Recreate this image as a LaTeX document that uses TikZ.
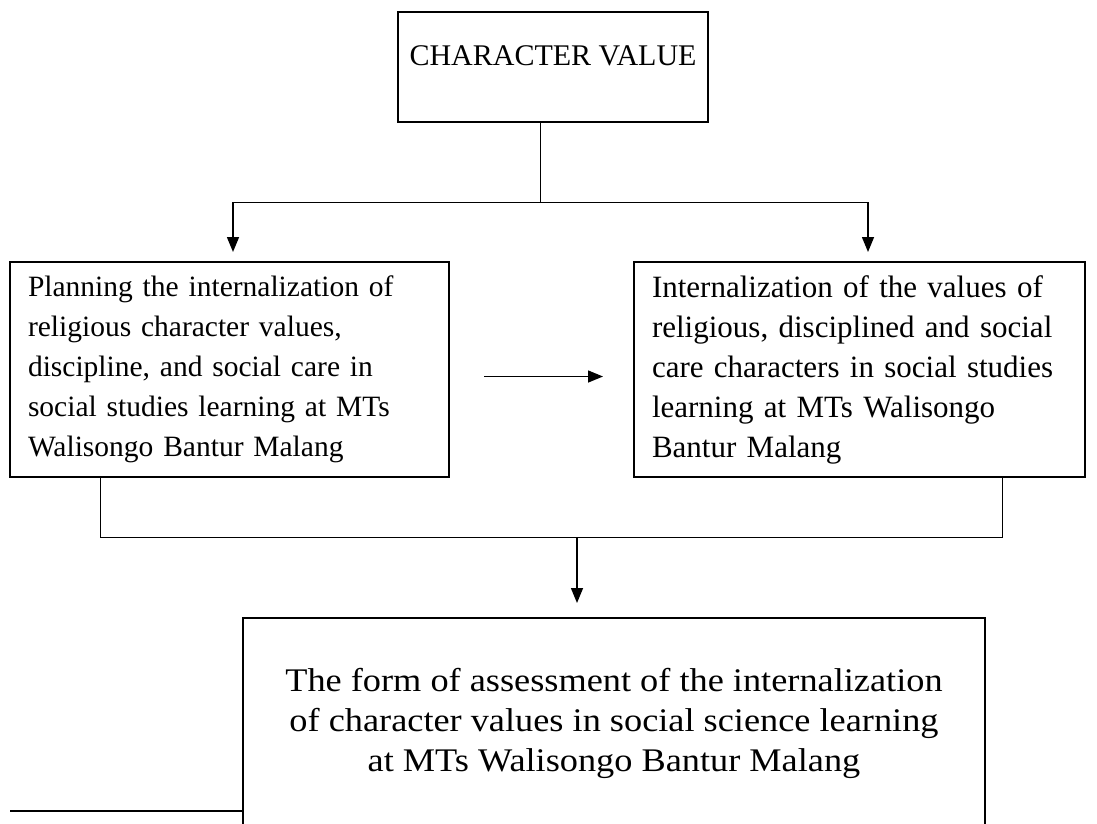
\documentclass[tikz,border=0pt]{standalone}
\usepackage{fontspec}
\setmainfont{Liberation Serif}
\newfontfamily\widefont[FakeStretch=1.1]{Liberation Serif}
\usetikzlibrary{arrows.meta, positioning, calc}

\begin{document}
\begin{tikzpicture}[x=1pt, y=-1pt]
    % --- Style Definitions ---
    \tikzset{
        % Outlined boxes
        box style/.style={
            draw=black,
            line width=1.5pt,
            inner sep=0pt,
            outer sep=0pt,
            font=\fontsize{30pt}{40pt}\selectfont
        },
        % Side boxes with left-aligned text
        side box/.style={
            box style,
            align=left,
            inner xsep=18pt,
            text width=#1,
            minimum height=215pt,
            anchor=north west
        },
        % Plain connector lines
        link line/.style={
            draw=black,
            line width=1pt
        },
        % Arrow styling
        flow arrow/.style={
            -{Triangle[width=12pt, length=15pt]},
            line width=1.5pt,
            black
        }
    }

    % --- Page frame ---
    \useasboundingbox (0,0) rectangle (1097,823);
    \clip (0,0) rectangle (1097,823);

    % ==========================================
    % BOXES
    % ==========================================
    % 1. Top box
    \node[box style, anchor=north west, minimum width=310pt,
        text height=53pt, text depth=57pt] (cv) at (398,12) {CHARACTER VALUE};

    % 2. Side boxes
    \node[side box=403pt, font=\fontsize{29.5pt}{40pt}\selectfont] (plan) at (10,262) {Planning the internalization of\\
        religious character values,\\
        discipline, and social care in\\
        social studies learning at MTs\\
        Walisongo Bantur Malang};
    \node[side box=415pt, font=\fontsize{31pt}{40pt}\selectfont] (intern) at (634,262) {Internalization of the values of\\
        religious, disciplined and social\\
        care characters in social studies\\
        learning at MTs Walisongo\\
        Bantur Malang};

    % 3. Bottom box
    \node[box style, anchor=north, align=center, minimum width=742pt,
        minimum height=210pt, font=\widefont\fontsize{33pt}{40pt}\selectfont] (assess) at (614,618) {The form of assessment of the internalization\\
        of character values in social science learning\\
        at MTs Walisongo Bantur Malang};

    % ==========================================
    % CONNECTORS
    % ==========================================
    \coordinate (split) at (540,202);
    \coordinate (planin) at (233,202);
    \coordinate (internin) at (868,202);
    \coordinate (planout) at (100,537);
    \coordinate (internout) at (1002,537);
    \coordinate (merge) at (577,537);
    \coordinate (tail) at (10,811);

    % Top split
    \draw[link line] (cv.south -| split) -- (split);
    \draw[link line] (planin) -- (internin);
    \draw[flow arrow] (planin) -- ([yshift=10pt]plan.north -| planin);
    \draw[flow arrow] (internin) -- ([yshift=10pt]intern.north -| internin);

    % Middle arrow
    \draw[flow arrow, shorten <=35pt, shorten >=31pt]
        ([yshift=-7pt]plan.east) -- ([yshift=-7pt]intern.west);

    % Bottom merge
    \draw[link line] (plan.south -| planout) -- (planout) -- (internout)
        -- (intern.south -| internout);
    \draw[flow arrow] (merge) -- ([yshift=15pt]assess.north -| merge);

    % Left tail line
    \draw[line width=1.5pt] (tail) -- (tail -| assess.west);

\end{tikzpicture}
\end{document}
